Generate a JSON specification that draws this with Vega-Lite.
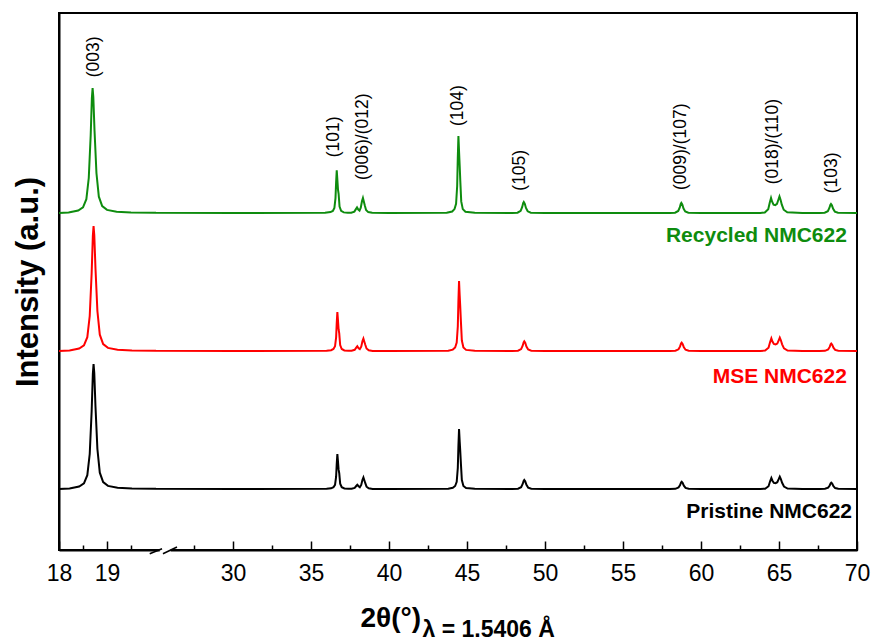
{
  "$schema": "https://vega.github.io/schema/vega-lite/v6.json",
  "width": 798,
  "height": 537,
  "autosize": {"type": "none"},
  "padding": {"left": 59, "top": 13, "right": 18, "bottom": 93},
  "background": "white",
  "config": {"view": {"stroke": "#000000", "strokeWidth": 2}, "font": "Liberation Sans"},
  "datasets": {
    "patterns": [
      {"sample":"Pristine","theta":18.0,"intensity":60},{"sample":"Pristine","theta":18.22,"intensity":60.6},{"sample":"Pristine","theta":18.42,"intensity":62.5},{"sample":"Pristine","theta":18.52,"intensity":65.6},{"sample":"Pristine","theta":18.59,"intensity":73.8},{"sample":"Pristine","theta":18.64,"intensity":95},{"sample":"Pristine","theta":18.68,"intensity":137.5},{"sample":"Pristine","theta":18.705,"intensity":175},{"sample":"Pristine","theta":18.72,"intensity":185},{"sample":"Pristine","theta":18.735,"intensity":176},{"sample":"Pristine","theta":18.76,"intensity":142.5},{"sample":"Pristine","theta":18.8,"intensity":100},{"sample":"Pristine","theta":18.85,"intensity":76.3},{"sample":"Pristine","theta":18.92,"intensity":66.9},{"sample":"Pristine","theta":19.02,"intensity":63.1},{"sample":"Pristine","theta":19.22,"intensity":61.3},{"sample":"Pristine","theta":19.52,"intensity":60.6},{"sample":"Pristine","theta":20.0,"intensity":60.3},
      {"sample":"Pristine","theta":25,"intensity":60.2},{"sample":"Pristine","theta":30,"intensity":60.1},{"sample":"Pristine","theta":36.0,"intensity":60.2},
      {"sample":"Pristine","theta":36.29,"intensity":60.7},{"sample":"Pristine","theta":36.44,"intensity":61.8},{"sample":"Pristine","theta":36.54,"intensity":64.2},{"sample":"Pristine","theta":36.61,"intensity":72.3},{"sample":"Pristine","theta":36.65,"intensity":85.2},{"sample":"Pristine","theta":36.69,"intensity":95},{"sample":"Pristine","theta":36.73,"intensity":87.3},{"sample":"Pristine","theta":36.77,"intensity":79.3},{"sample":"Pristine","theta":36.81,"intensity":75.8},{"sample":"Pristine","theta":36.87,"intensity":65.3},{"sample":"Pristine","theta":36.97,"intensity":61.8},{"sample":"Pristine","theta":37.14,"intensity":60.5},
      {"sample":"Pristine","theta":37.4,"intensity":60.2},
      {"sample":"Pristine","theta":37.6,"intensity":60.3},{"sample":"Pristine","theta":37.8,"intensity":61.1},{"sample":"Pristine","theta":37.9,"intensity":63.0},{"sample":"Pristine","theta":37.97,"intensity":64.3},{"sample":"Pristine","theta":38.05,"intensity":62.8},{"sample":"Pristine","theta":38.13,"intensity":61.8},{"sample":"Pristine","theta":38.22,"intensity":64.1},{"sample":"Pristine","theta":38.3,"intensity":69.3},{"sample":"Pristine","theta":38.36,"intensity":71.6},{"sample":"Pristine","theta":38.42,"intensity":68.7},{"sample":"Pristine","theta":38.48,"intensity":65.8},{"sample":"Pristine","theta":38.56,"intensity":62.3},{"sample":"Pristine","theta":38.7,"intensity":60.7},{"sample":"Pristine","theta":38.95,"intensity":60.1},
      {"sample":"Pristine","theta":40,"intensity":60},{"sample":"Pristine","theta":43.8,"intensity":60.2},
      {"sample":"Pristine","theta":44.09,"intensity":61.2},{"sample":"Pristine","theta":44.24,"intensity":63},{"sample":"Pristine","theta":44.34,"intensity":67.2},{"sample":"Pristine","theta":44.41,"intensity":81},{"sample":"Pristine","theta":44.45,"intensity":103.2},{"sample":"Pristine","theta":44.49,"intensity":120},{"sample":"Pristine","theta":44.53,"intensity":108},{"sample":"Pristine","theta":44.57,"intensity":97.2},{"sample":"Pristine","theta":44.61,"intensity":85.2},{"sample":"Pristine","theta":44.67,"intensity":69},{"sample":"Pristine","theta":44.77,"intensity":63},{"sample":"Pristine","theta":44.94,"intensity":60.9},
      {"sample":"Pristine","theta":45.5,"intensity":60.2},{"sample":"Pristine","theta":47.9,"intensity":60.1},
      {"sample":"Pristine","theta":48.27,"intensity":60.3},{"sample":"Pristine","theta":48.47,"intensity":61.8},{"sample":"Pristine","theta":48.57,"intensity":65},{"sample":"Pristine","theta":48.63,"intensity":68.1},{"sample":"Pristine","theta":48.67,"intensity":69},{"sample":"Pristine","theta":48.73,"intensity":67.7},{"sample":"Pristine","theta":48.81,"intensity":64.1},{"sample":"Pristine","theta":48.92,"intensity":61.4},{"sample":"Pristine","theta":49.12,"intensity":60.3},
      {"sample":"Pristine","theta":50,"intensity":60},{"sample":"Pristine","theta":55,"intensity":60},{"sample":"Pristine","theta":58.0,"intensity":60.1},
      {"sample":"Pristine","theta":58.36,"intensity":60.2},{"sample":"Pristine","theta":58.56,"intensity":61.5},{"sample":"Pristine","theta":58.66,"intensity":64},{"sample":"Pristine","theta":58.72,"intensity":66.6},{"sample":"Pristine","theta":58.76,"intensity":67.3},{"sample":"Pristine","theta":58.82,"intensity":66.2},{"sample":"Pristine","theta":58.9,"intensity":63.3},{"sample":"Pristine","theta":59.01,"intensity":61.1},{"sample":"Pristine","theta":59.21,"intensity":60.2},
      {"sample":"Pristine","theta":60,"intensity":60},{"sample":"Pristine","theta":63.8,"intensity":60.1},
      {"sample":"Pristine","theta":64.11,"intensity":60.3},{"sample":"Pristine","theta":64.33,"intensity":62.8},{"sample":"Pristine","theta":64.43,"intensity":67.7},{"sample":"Pristine","theta":64.51,"intensity":71},{"sample":"Pristine","theta":64.58,"intensity":68.3},{"sample":"Pristine","theta":64.67,"intensity":66.1},{"sample":"Pristine","theta":64.78,"intensity":65.8},{"sample":"Pristine","theta":64.89,"intensity":66.8},{"sample":"Pristine","theta":64.98,"intensity":69.8},{"sample":"Pristine","theta":65.05,"intensity":72.3},{"sample":"Pristine","theta":65.12,"intensity":69.8},{"sample":"Pristine","theta":65.2,"intensity":66.2},{"sample":"Pristine","theta":65.32,"intensity":62.5},{"sample":"Pristine","theta":65.55,"intensity":60.5},
      {"sample":"Pristine","theta":66.5,"intensity":60.1},{"sample":"Pristine","theta":67.6,"intensity":60.1},
      {"sample":"Pristine","theta":67.95,"intensity":60.2},{"sample":"Pristine","theta":68.15,"intensity":61.3},{"sample":"Pristine","theta":68.25,"intensity":63.5},{"sample":"Pristine","theta":68.31,"intensity":65.7},{"sample":"Pristine","theta":68.35,"intensity":66.3},{"sample":"Pristine","theta":68.41,"intensity":65.4},{"sample":"Pristine","theta":68.49,"intensity":62.8},{"sample":"Pristine","theta":68.6,"intensity":60.9},{"sample":"Pristine","theta":68.8,"intensity":60.2},
      {"sample":"Pristine","theta":70,"intensity":60},

      {"sample":"MSE","theta":18.0,"intensity":198},{"sample":"MSE","theta":18.22,"intensity":198.6},{"sample":"MSE","theta":18.42,"intensity":200.5},{"sample":"MSE","theta":18.52,"intensity":203.6},{"sample":"MSE","theta":18.59,"intensity":211.8},{"sample":"MSE","theta":18.64,"intensity":233},{"sample":"MSE","theta":18.68,"intensity":275.5},{"sample":"MSE","theta":18.705,"intensity":313},{"sample":"MSE","theta":18.72,"intensity":323},{"sample":"MSE","theta":18.735,"intensity":314},{"sample":"MSE","theta":18.76,"intensity":280.5},{"sample":"MSE","theta":18.8,"intensity":238},{"sample":"MSE","theta":18.85,"intensity":214.3},{"sample":"MSE","theta":18.92,"intensity":204.9},{"sample":"MSE","theta":19.02,"intensity":201.1},{"sample":"MSE","theta":19.22,"intensity":199.3},{"sample":"MSE","theta":19.52,"intensity":198.6},{"sample":"MSE","theta":20.0,"intensity":198.3},
      {"sample":"MSE","theta":25,"intensity":198.2},{"sample":"MSE","theta":30,"intensity":198.1},{"sample":"MSE","theta":36.0,"intensity":198.2},
      {"sample":"MSE","theta":36.29,"intensity":198.8},{"sample":"MSE","theta":36.44,"intensity":200},{"sample":"MSE","theta":36.54,"intensity":202.7},{"sample":"MSE","theta":36.61,"intensity":211.7},{"sample":"MSE","theta":36.65,"intensity":226.1},{"sample":"MSE","theta":36.69,"intensity":237},{"sample":"MSE","theta":36.73,"intensity":228.4},{"sample":"MSE","theta":36.77,"intensity":219.5},{"sample":"MSE","theta":36.81,"intensity":215.6},{"sample":"MSE","theta":36.87,"intensity":203.9},{"sample":"MSE","theta":36.97,"intensity":200},{"sample":"MSE","theta":37.14,"intensity":198.6},
      {"sample":"MSE","theta":37.4,"intensity":198.2},
      {"sample":"MSE","theta":37.6,"intensity":198.3},{"sample":"MSE","theta":37.8,"intensity":199.2},{"sample":"MSE","theta":37.9,"intensity":201.3},{"sample":"MSE","theta":37.97,"intensity":202.7},{"sample":"MSE","theta":38.05,"intensity":200.8},{"sample":"MSE","theta":38.13,"intensity":199.9},{"sample":"MSE","theta":38.22,"intensity":202.3},{"sample":"MSE","theta":38.3,"intensity":207.9},{"sample":"MSE","theta":38.36,"intensity":210.4},{"sample":"MSE","theta":38.42,"intensity":207.3},{"sample":"MSE","theta":38.48,"intensity":204.2},{"sample":"MSE","theta":38.56,"intensity":200.5},{"sample":"MSE","theta":38.7,"intensity":198.7},{"sample":"MSE","theta":38.95,"intensity":198.1},
      {"sample":"MSE","theta":40,"intensity":198},{"sample":"MSE","theta":43.8,"intensity":198.2},
      {"sample":"MSE","theta":44.09,"intensity":199.4},{"sample":"MSE","theta":44.24,"intensity":201.5},{"sample":"MSE","theta":44.34,"intensity":206.4},{"sample":"MSE","theta":44.41,"intensity":222.5},{"sample":"MSE","theta":44.45,"intensity":248.4},{"sample":"MSE","theta":44.49,"intensity":268},{"sample":"MSE","theta":44.53,"intensity":254},{"sample":"MSE","theta":44.57,"intensity":241.4},{"sample":"MSE","theta":44.61,"intensity":227.4},{"sample":"MSE","theta":44.67,"intensity":208.5},{"sample":"MSE","theta":44.77,"intensity":201.5},{"sample":"MSE","theta":44.94,"intensity":199.1},
      {"sample":"MSE","theta":45.5,"intensity":198.2},{"sample":"MSE","theta":47.9,"intensity":198.1},
      {"sample":"MSE","theta":48.27,"intensity":198.3},{"sample":"MSE","theta":48.47,"intensity":199.9},{"sample":"MSE","theta":48.57,"intensity":203.3},{"sample":"MSE","theta":48.63,"intensity":206.7},{"sample":"MSE","theta":48.67,"intensity":207.7},{"sample":"MSE","theta":48.73,"intensity":206.2},{"sample":"MSE","theta":48.81,"intensity":202.4},{"sample":"MSE","theta":48.92,"intensity":199.5},{"sample":"MSE","theta":49.12,"intensity":198.3},
      {"sample":"MSE","theta":50,"intensity":198},{"sample":"MSE","theta":55,"intensity":198},{"sample":"MSE","theta":58.0,"intensity":198.1},
      {"sample":"MSE","theta":58.36,"intensity":198.3},{"sample":"MSE","theta":58.56,"intensity":199.7},{"sample":"MSE","theta":58.66,"intensity":202.6},{"sample":"MSE","theta":58.72,"intensity":205.6},{"sample":"MSE","theta":58.76,"intensity":206.4},{"sample":"MSE","theta":58.82,"intensity":205.1},{"sample":"MSE","theta":58.9,"intensity":201.8},{"sample":"MSE","theta":59.01,"intensity":199.3},{"sample":"MSE","theta":59.21,"intensity":198.3},
      {"sample":"MSE","theta":60,"intensity":198},{"sample":"MSE","theta":63.8,"intensity":198.1},
      {"sample":"MSE","theta":64.11,"intensity":198.4},{"sample":"MSE","theta":64.33,"intensity":201.2},{"sample":"MSE","theta":64.43,"intensity":206.9},{"sample":"MSE","theta":64.51,"intensity":210.7},{"sample":"MSE","theta":64.58,"intensity":207.5},{"sample":"MSE","theta":64.67,"intensity":205.0},{"sample":"MSE","theta":64.78,"intensity":204.5},{"sample":"MSE","theta":64.89,"intensity":205.4},{"sample":"MSE","theta":64.98,"intensity":208.7},{"sample":"MSE","theta":65.05,"intensity":211.4},{"sample":"MSE","theta":65.12,"intensity":208.7},{"sample":"MSE","theta":65.2,"intensity":204.7},{"sample":"MSE","theta":65.32,"intensity":200.7},{"sample":"MSE","theta":65.55,"intensity":198.5},
      {"sample":"MSE","theta":66.5,"intensity":198.1},{"sample":"MSE","theta":67.6,"intensity":198.1},
      {"sample":"MSE","theta":67.95,"intensity":198.2},{"sample":"MSE","theta":68.15,"intensity":199.5},{"sample":"MSE","theta":68.25,"intensity":202.1},{"sample":"MSE","theta":68.31,"intensity":204.7},{"sample":"MSE","theta":68.35,"intensity":205.4},{"sample":"MSE","theta":68.41,"intensity":204.3},{"sample":"MSE","theta":68.49,"intensity":201.3},{"sample":"MSE","theta":68.6,"intensity":199.1},{"sample":"MSE","theta":68.8,"intensity":198.2},
      {"sample":"MSE","theta":70,"intensity":198},

      {"sample":"Recycled","theta":18.0,"intensity":336},{"sample":"Recycled","theta":18.2,"intensity":336.6},{"sample":"Recycled","theta":18.4,"intensity":338.5},{"sample":"Recycled","theta":18.5,"intensity":341.6},{"sample":"Recycled","theta":18.57,"intensity":349.8},{"sample":"Recycled","theta":18.62,"intensity":371},{"sample":"Recycled","theta":18.66,"intensity":413.5},{"sample":"Recycled","theta":18.685,"intensity":451},{"sample":"Recycled","theta":18.7,"intensity":461},{"sample":"Recycled","theta":18.715,"intensity":452},{"sample":"Recycled","theta":18.74,"intensity":418.5},{"sample":"Recycled","theta":18.78,"intensity":376},{"sample":"Recycled","theta":18.83,"intensity":352.3},{"sample":"Recycled","theta":18.9,"intensity":342.9},{"sample":"Recycled","theta":19.0,"intensity":339.1},{"sample":"Recycled","theta":19.2,"intensity":337.3},{"sample":"Recycled","theta":19.5,"intensity":336.6},{"sample":"Recycled","theta":20.0,"intensity":336.3},
      {"sample":"Recycled","theta":25,"intensity":336.2},{"sample":"Recycled","theta":30,"intensity":336.1},{"sample":"Recycled","theta":35.9,"intensity":336.2},
      {"sample":"Recycled","theta":36.25,"intensity":336.9},{"sample":"Recycled","theta":36.4,"intensity":338.1},{"sample":"Recycled","theta":36.5,"intensity":341.1},{"sample":"Recycled","theta":36.57,"intensity":350.9},{"sample":"Recycled","theta":36.61,"intensity":366.7},{"sample":"Recycled","theta":36.65,"intensity":378.6},{"sample":"Recycled","theta":36.69,"intensity":369.2},{"sample":"Recycled","theta":36.73,"intensity":359.4},{"sample":"Recycled","theta":36.77,"intensity":355.2},{"sample":"Recycled","theta":36.83,"intensity":342.4},{"sample":"Recycled","theta":36.93,"intensity":338.1},{"sample":"Recycled","theta":37.1,"intensity":336.6},
      {"sample":"Recycled","theta":37.35,"intensity":336.2},
      {"sample":"Recycled","theta":37.58,"intensity":336.3},{"sample":"Recycled","theta":37.78,"intensity":337.4},{"sample":"Recycled","theta":37.88,"intensity":339.9},{"sample":"Recycled","theta":37.95,"intensity":341.6},{"sample":"Recycled","theta":38.03,"intensity":339.4},{"sample":"Recycled","theta":38.11,"intensity":338.3},{"sample":"Recycled","theta":38.19,"intensity":341.3},{"sample":"Recycled","theta":38.27,"intensity":348},{"sample":"Recycled","theta":38.33,"intensity":351},{"sample":"Recycled","theta":38.39,"intensity":347.3},{"sample":"Recycled","theta":38.45,"intensity":343.5},{"sample":"Recycled","theta":38.53,"intensity":339},{"sample":"Recycled","theta":38.67,"intensity":336.9},{"sample":"Recycled","theta":38.92,"intensity":336.2},
      {"sample":"Recycled","theta":40,"intensity":336},{"sample":"Recycled","theta":43.7,"intensity":336.2},
      {"sample":"Recycled","theta":44.05,"intensity":337.5},{"sample":"Recycled","theta":44.2,"intensity":339.9},{"sample":"Recycled","theta":44.3,"intensity":345.2},{"sample":"Recycled","theta":44.37,"intensity":363},{"sample":"Recycled","theta":44.41,"intensity":391.4},{"sample":"Recycled","theta":44.45,"intensity":413},{"sample":"Recycled","theta":44.49,"intensity":397.6},{"sample":"Recycled","theta":44.53,"intensity":383.7},{"sample":"Recycled","theta":44.57,"intensity":368.3},{"sample":"Recycled","theta":44.63,"intensity":347.6},{"sample":"Recycled","theta":44.73,"intensity":339.9},{"sample":"Recycled","theta":44.9,"intensity":337.2},
      {"sample":"Recycled","theta":45.5,"intensity":336.2},{"sample":"Recycled","theta":47.9,"intensity":336.1},
      {"sample":"Recycled","theta":48.24,"intensity":336.3},{"sample":"Recycled","theta":48.44,"intensity":338.2},{"sample":"Recycled","theta":48.54,"intensity":342.1},{"sample":"Recycled","theta":48.6,"intensity":345.9},{"sample":"Recycled","theta":48.64,"intensity":347},{"sample":"Recycled","theta":48.7,"intensity":345.4},{"sample":"Recycled","theta":48.78,"intensity":341},{"sample":"Recycled","theta":48.89,"intensity":337.7},{"sample":"Recycled","theta":49.09,"intensity":336.3},
      {"sample":"Recycled","theta":50,"intensity":336},{"sample":"Recycled","theta":55,"intensity":336},{"sample":"Recycled","theta":58.0,"intensity":336.1},
      {"sample":"Recycled","theta":58.34,"intensity":336.3},{"sample":"Recycled","theta":58.54,"intensity":338},{"sample":"Recycled","theta":58.64,"intensity":341.5},{"sample":"Recycled","theta":58.7,"intensity":345},{"sample":"Recycled","theta":58.74,"intensity":346},{"sample":"Recycled","theta":58.8,"intensity":344.5},{"sample":"Recycled","theta":58.88,"intensity":340.5},{"sample":"Recycled","theta":58.99,"intensity":337.5},{"sample":"Recycled","theta":59.19,"intensity":336.3},
      {"sample":"Recycled","theta":60,"intensity":336},{"sample":"Recycled","theta":63.8,"intensity":336.1},
      {"sample":"Recycled","theta":64.09,"intensity":336.5},{"sample":"Recycled","theta":64.31,"intensity":339.8},{"sample":"Recycled","theta":64.41,"intensity":346.5},{"sample":"Recycled","theta":64.49,"intensity":351},{"sample":"Recycled","theta":64.56,"intensity":347.3},{"sample":"Recycled","theta":64.65,"intensity":344.3},{"sample":"Recycled","theta":64.76,"intensity":343.9},{"sample":"Recycled","theta":64.87,"intensity":345.1},{"sample":"Recycled","theta":64.96,"intensity":349.3},{"sample":"Recycled","theta":65.03,"intensity":352.6},{"sample":"Recycled","theta":65.1,"intensity":349.3},{"sample":"Recycled","theta":65.18,"intensity":344.3},{"sample":"Recycled","theta":65.3,"intensity":339.3},{"sample":"Recycled","theta":65.53,"intensity":336.7},
      {"sample":"Recycled","theta":66.5,"intensity":336.1},{"sample":"Recycled","theta":67.6,"intensity":336.1},
      {"sample":"Recycled","theta":67.93,"intensity":336.3},{"sample":"Recycled","theta":68.13,"intensity":337.8},{"sample":"Recycled","theta":68.23,"intensity":341},{"sample":"Recycled","theta":68.29,"intensity":344.1},{"sample":"Recycled","theta":68.33,"intensity":345},{"sample":"Recycled","theta":68.39,"intensity":343.7},{"sample":"Recycled","theta":68.47,"intensity":340.1},{"sample":"Recycled","theta":68.58,"intensity":337.4},{"sample":"Recycled","theta":68.78,"intensity":336.3},
      {"sample":"Recycled","theta":70,"intensity":336}
    ],
    "peaks": [
      {"label":"(003)","theta":18.72,"intensity":471.7},
      {"label":"(101)","theta":36.47,"intensity":391.7},
      {"label":"(006)/(012)","theta":38.36,"intensity":369},
      {"label":"(104)","theta":44.45,"intensity":423},
      {"label":"(105)","theta":48.4,"intensity":358.3},
      {"label":"(009)/(107)","theta":58.74,"intensity":359},
      {"label":"(018)/(110)","theta":64.62,"intensity":364.7},
      {"label":"(103)","theta":68.42,"intensity":355.7}
    ],
    "names": [
      {"sample":"Recycled","label":"Recycled NMC622","theta":69.35,"intensity":307.3},
      {"sample":"MSE","label":"MSE NMC622","theta":69.35,"intensity":165.7},
      {"sample":"Pristine","label":"Pristine NMC622","theta":69.68,"intensity":30.7}
    ],
    "gap": [
      {"theta":25.3,"theta2":26.0,"intensity":-1,"intensity2":-1}
    ],
    "breaks": [
      {"theta":19.89,"theta2":25.45,"intensity":-4.7,"intensity2":0.3},
      {"theta":25.51,"theta2":26.41,"intensity":-4.7,"intensity2":2.0}
    ]
  },
  "resolve": {"axis": {"x": "independent", "y": "independent"}},
  "layer": [
    {
      "data": {"name": "patterns"},
      "mark": {"type": "line", "strokeWidth": 2, "interpolate": "linear"},
      "encoding": {
        "x": {
          "field": "theta", "type": "quantitative",
          "scale": {"domain": [18, 20, 25, 70], "range": [0, 96, 96, 798], "nice": false, "zero": false},
          "axis": {
            "orient": "bottom", "values": [18, 19, 30, 35, 40, 45, 50, 55, 60, 65, 70],
            "tickSize": -9, "tickWidth": 1.5, "tickColor": "#000000",
            "domainColor": "#000000", "domainWidth": 2,
            "labelFontSize": 23, "labelColor": "#000000", "labelPadding": 21,
            "labelFlush": false, "labelOverlap": false, "grid": false,
            "title": "2θ(°)", "titleFontSize": 28, "titleFontWeight": "bold", "titleColor": "#000000",
            "titleAlign": "left", "titleBaseline": "alphabetic", "titleX": 301, "titleY": 76
          }
        },
        "y": {
          "field": "intensity", "type": "quantitative",
          "scale": {"domain": [-1, 536], "nice": false, "zero": false},
          "axis": {
            "orient": "left", "ticks": false, "labels": false, "grid": false,
            "domainColor": "#000000", "domainWidth": 2,
            "title": "Intensity (a.u.)", "titleFontSize": 31, "titleFontWeight": "bold",
            "titleColor": "#000000", "titlePadding": 15
          }
        },
        "color": {
          "field": "sample", "type": "nominal",
          "scale": {"domain": ["Pristine", "MSE", "Recycled"], "range": ["#000000", "#ff0000", "#0e8c0e"]},
          "legend": null
        }
      }
    },
    {
      "data": {"name": "peaks"},
      "mark": {"type": "text", "angle": 270, "align": "left", "baseline": "middle", "fontSize": 17.5, "color": "#000000"},
      "encoding": {
        "x": {
          "field": "theta", "type": "quantitative",
          "axis": {
            "orient": "bottom", "values": [18.5, 19.5, 27.5, 32.5, 37.5, 42.5, 47.5, 52.5, 57.5, 62.5, 67.5],
            "labels": false, "domain": false, "grid": false, "ticks": true,
            "tickSize": -5, "tickWidth": 1.5, "tickColor": "#000000", "title": null
          }
        },
        "y": {"field": "intensity", "type": "quantitative", "axis": null},
        "text": {"field": "label"}
      }
    },
    {
      "data": {"name": "names"},
      "mark": {"type": "text", "align": "right", "baseline": "alphabetic", "fontSize": 21, "fontWeight": "bold"},
      "encoding": {
        "x": {
          "field": "theta", "type": "quantitative",
          "axis": {
            "orient": "bottom", "labels": false, "ticks": false, "domain": false, "grid": false,
            "title": "λ = 1.5406 Å", "titleFontSize": 23, "titleFontWeight": "bold", "titleColor": "#000000",
            "titleAlign": "left", "titleBaseline": "alphabetic", "titleX": 363, "titleY": 86
          }
        },
        "y": {"field": "intensity", "type": "quantitative", "axis": null},
        "text": {"field": "label"},
        "color": {"field": "sample", "type": "nominal", "legend": null}
      }
    },
    {
      "data": {"name": "gap"},
      "mark": {"type": "rule", "color": "#ffffff", "strokeWidth": 4},
      "encoding": {
        "x": {"field": "theta", "type": "quantitative", "axis": null},
        "x2": {"field": "theta2"},
        "y": {"field": "intensity", "type": "quantitative", "axis": null},
        "y2": {"field": "intensity2"}
      }
    },
    {
      "data": {"name": "breaks"},
      "mark": {"type": "rule", "color": "#000000", "strokeWidth": 1.5},
      "encoding": {
        "x": {"field": "theta", "type": "quantitative", "axis": null},
        "x2": {"field": "theta2"},
        "y": {"field": "intensity", "type": "quantitative", "axis": null},
        "y2": {"field": "intensity2"}
      }
    }
  ]
}
